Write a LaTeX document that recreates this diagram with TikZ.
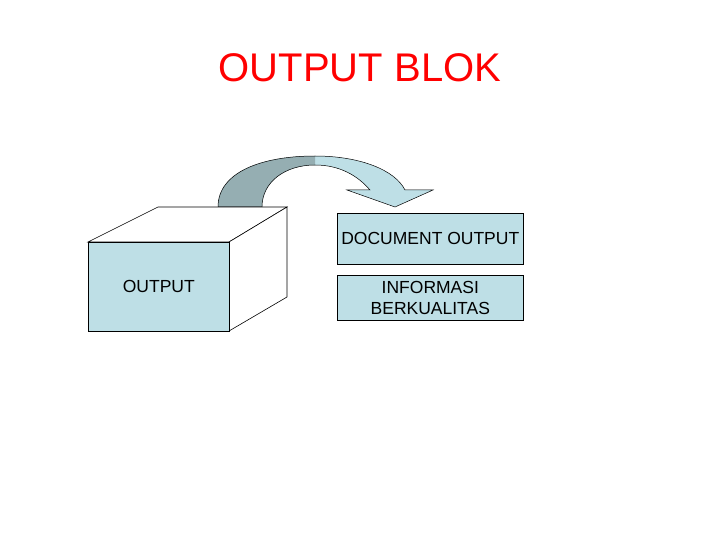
\documentclass[tikz,border=0pt]{standalone}
\usepackage{fontspec}
\setmainfont{Liberation Sans}
\begin{document}
\begin{tikzpicture}[x=1pt,y=-1pt,
  lb/.style={fill=boxblue,draw=black,line width=0.6pt},
  lbl/.style={font=\fontsize{17.5}{21}\selectfont,align=center}]
\definecolor{boxblue}{HTML}{BEDFE6}
\definecolor{darkarc}{HTML}{95AEB2}
\useasboundingbox[fill=white] (0,0) rectangle (720,540);
\node[text=red,font=\fontsize{40}{44}\selectfont] (title) at (360,68) {OUTPUT BLOK};
% arrow
\def\arrowpath{(218,207) .. controls (218,172) and (262,156) .. (315,156) .. controls (360,156) and (395,170) .. (405,190) -- (433,190) -- (395,207) -- (347,190) -- (370,190) .. controls (358,176) and (340,165) .. (315,165) .. controls (285,165) and (262,182) .. (262,207) -- cycle}
\fill[boxblue] \arrowpath;
\begin{scope}
\clip (0,0) rectangle (315,540);
\fill[darkarc] \arrowpath;
\end{scope}
\draw[line width=0.5pt] \arrowpath;
% cube
\draw[fill=white,line width=0.6pt] (88,242) -- (158,207) -- (287,207) -- (229,242) -- cycle;
\draw[fill=white,line width=0.6pt] (229,242) -- (287,207) -- (287,297) -- (229,331) -- cycle;
\node[lb,minimum width=141pt,minimum height=89pt,anchor=north west,lbl] (out) at (88,242) {OUTPUT};
\node[lb,minimum width=186pt,minimum height=51pt,anchor=north west,lbl,inner sep=0pt] (doc) at (337,213) {DOCUMENT OUTPUT};
\node[lb,minimum width=186pt,minimum height=45pt,anchor=north west,lbl,inner sep=0pt] (inf) at (337,275) {INFORMASI\\BERKUALITAS};
\end{tikzpicture}
\end{document}
